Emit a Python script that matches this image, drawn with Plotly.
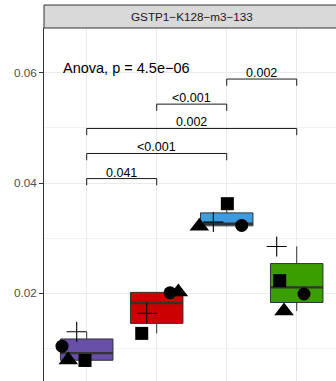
import numpy as np
import plotly.graph_objects as go

# ---- data -------------------------------------------------------------
groups = ["G1", "G2", "G3", "G4"]
group_pos = [1, 2, 3, 4]
box_colors = ["#674EA7", "#CC0000", "#3D9BE0", "#3A9E00"]

# replicate values per group, in order: circle, triangle, square, plus
rep_shapes = ["circle", "triangle-up", "square", "cross-thin"]
rep_sizes = [13, 17, 13, 14.3]
values = {
    "G1": [0.01042, 0.00790, 0.00782, 0.01302],
    "G2": [0.02010, 0.02024, 0.01273, 0.01636],
    "G3": [0.03231, 0.03216, 0.03625, 0.03291],
    "G4": [0.01987, 0.01680, 0.02229, 0.02849],
}
# horizontal jitter of each replicate point
jitter = {
    "G1": [-0.353, -0.263, -0.024, -0.143],
    "G2": [0.190, 0.309, -0.214, -0.143],
    "G3": [0.214, -0.391, 0.009, -0.191],
    "G4": [0.104, -0.181, -0.243, -0.286],
}

# pairwise comparisons: (left group, right group, bracket height, label)
comp_left = [1, 1, 1, 2, 3]
comp_right = [2, 3, 4, 3, 4]
comp_y = [0.0408, 0.04535, 0.04989, 0.0543, 0.05885]
comp_labels = ["0.041", "<0.001", "0.002", "<0.001", "0.002"]
tip_len = 0.00122

anova_label = "Anova, p = 4.5e\u221206"
panel_title = "GSTP1\u2212K128\u2212m3\u2212133"

FONT = "Liberation Sans, Arial, Helvetica, sans-serif"
DARK = "#333333"

fig = go.Figure()

# ---- boxes --------------------------------------------------------------
for g, xp, col in zip(groups, group_pos, box_colors):
    v = values[g]
    fig.add_trace(go.Box(
        x=[xp] * len(v), y=v, width=0.75,
        fillcolor=col, line=dict(color=DARK, width=1),
        boxpoints=False, whiskerwidth=0, quartilemethod="linear",
        hoverinfo="skip", showlegend=False,
    ))
    med = float(np.median(v))
    fig.add_trace(go.Scatter(
        x=[xp - 0.375, xp + 0.375], y=[med, med], mode="lines",
        line=dict(color=DARK, width=2.4), hoverinfo="skip", showlegend=False,
    ))

# ---- replicate points ------------------------------------------------------
for k, (sym, sz) in enumerate(zip(rep_shapes, rep_sizes)):
    xs = [xp + jitter[g][k] for g, xp in zip(groups, group_pos)]
    ys = [values[g][k] for g in groups]
    marker = dict(symbol=sym, size=sz, color="black")
    if sym == "cross-thin":
        marker["line"] = dict(color="black", width=1.1)
    else:
        marker["line"] = dict(width=0)
    fig.add_trace(go.Scatter(x=xs, y=ys, mode="markers", marker=marker,
                             hoverinfo="skip", showlegend=False))

# ---- comparison brackets -----------------------------------------------------
for a, b, yv, lab in zip(comp_left, comp_right, comp_y, comp_labels):
    fig.add_trace(go.Scatter(
        x=[a, a, b, b], y=[yv - tip_len, yv, yv, yv - tip_len], mode="lines",
        line=dict(color="#1a1a1a", width=1), hoverinfo="skip", showlegend=False,
    ))
    fig.add_annotation(x=(a + b) / 2, y=yv, xref="x", yref="y", text=lab,
                       showarrow=False, yanchor="middle", xanchor="center",
                       yshift=6, font=dict(family=FONT, size=12.5, color="black"))

fig.add_annotation(x=0.633, y=0.06082, xref="x", yref="y", text=anova_label,
                   showarrow=False, xanchor="left", yanchor="middle",
                   font=dict(family=FONT, size=14.5, color="black"))

# ---- facet strip -----------------------------------------------------------
plot_h = 381 - 28
fig.add_shape(type="rect", xref="paper", yref="paper",
              x0=0, x1=1.05, y0=1, y1=1 + 23 / plot_h,
              fillcolor="#d9d9d9", line=dict(color=DARK, width=1), layer="above")
fig.add_annotation(x=2.5, y=1, xref="x", yref="paper", text=panel_title,
                   showarrow=False, yanchor="middle", yshift=11.5,
                   font=dict(family=FONT, size=11.7, color="#1a1a1a"))

fig.update_layout(
    width=336, height=381,
    margin=dict(l=44, r=0, t=28, b=0),
    paper_bgcolor="white", plot_bgcolor="white",
    showlegend=False,
    font=dict(family=FONT),
    xaxis=dict(range=[0.39, 4.561], tickvals=group_pos, showticklabels=False,
               ticks="", showgrid=True, gridcolor="#ebebeb", gridwidth=1,
               zeroline=False, showline=False),
    yaxis=dict(range=[0.004098, 0.068105], tickvals=[0.02, 0.04, 0.06],
               ticktext=["0.02", "0.04", "0.06"],
               ticks="outside", ticklen=4, tickcolor=DARK, tickwidth=1,
               tickfont=dict(family=FONT, size=11.7, color="#4d4d4d"),
               showgrid=True, gridcolor="#ebebeb", gridwidth=1,
               minor=dict(tickvals=[0.01, 0.03, 0.05], showgrid=True,
                          gridcolor="#f2f2f2", gridwidth=0.6, ticks=""),
               zeroline=False, showline=True, linecolor=DARK, linewidth=1),
)

fig.write_html("out.html", config={"displayModeBar": False})
